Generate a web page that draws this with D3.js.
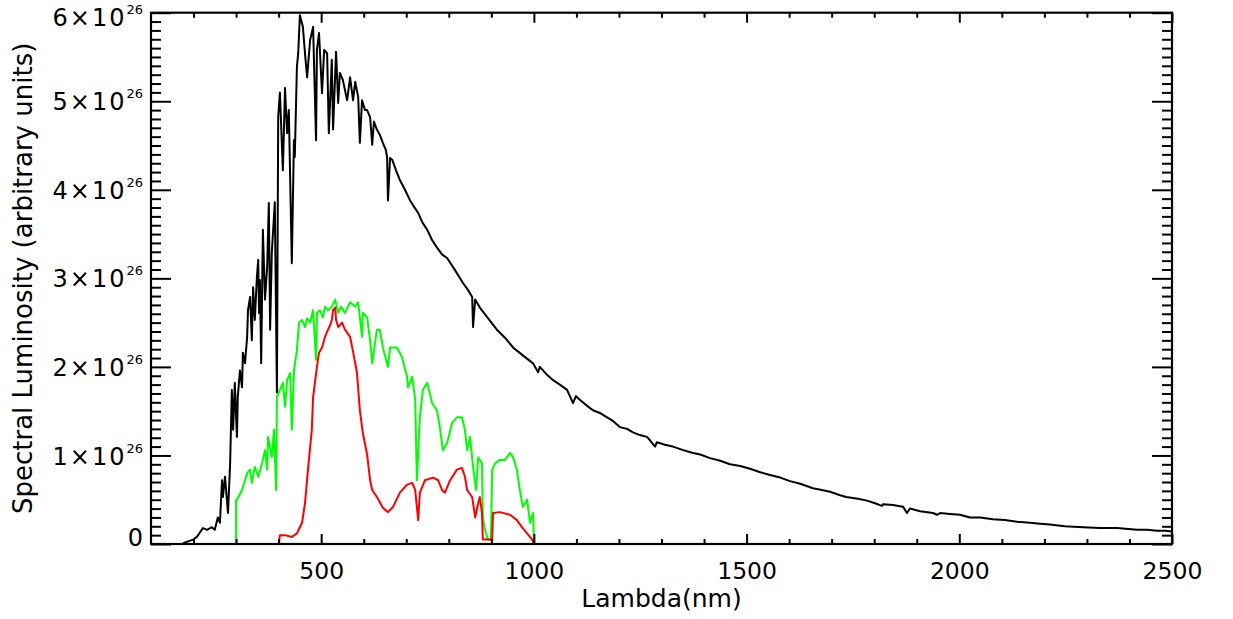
<!DOCTYPE html>
<html>
<head>
<meta charset="utf-8">
<script src="https://cdn.jsdelivr.net/npm/d3@7"></script>
<style>
  body { margin: 0; background: #fff; }
  svg text { font-family: "DejaVu Sans", sans-serif; fill: #000; }
</style>
</head>
<body>
<svg id="chart" width="1233" height="619"></svg>
<script>
// spectral luminosity, in units of 1e26 (arbitrary), vs wavelength in nm
var sunWl = [175,199,208,222,232,243,250,257,262,267,269,274,279,281,286,290,293,297,302,304,
  309,314,316,321,326,328,333,337,340,344,349,352,354,356,359,363,368,373,377,380,
  384,391,396,399,403,410,415,420,424,431,436,438,443,446,450,457,462,467,474,481,
  488,490,495,502,507,514,518,525,528,535,540,544,551,561,568,575,580,587,591,596,
  603,608,615,620,624,631,638,645,652,655,657,662,667,676,685,697,709,718,728,737,
  749,761,772,784,796,815,833,845,855,857,862,873,892,913,932,951,974,998,1010,1014,
  1031,1045,1061,1078,1092,1099,1108,1125,1139,1155,1172,1186,1202,1219,1233,1249,1266,1285,1289,1308,
  1327,1351,1372,1391,1414,1438,1461,1485,1508,1532,1555,1579,1602,1626,1656,1677,1696,1720,1734,1762,
  1783,1802,1818,1821,1844,1868,1877,1884,1908,1938,1948,1955,1978,2002,2025,2049,2079,2107,2136,2166,
  2190,2213,2248,2291,2331,2371,2397,2418,2441,2465,2484,2500];
var sunLum = [0.01,0.05,0.08,0.18,0.16,0.19,0.16,0.30,0.24,0.72,0.53,0.76,0.46,0.35,0.91,1.74,1.29,1.82,1.21,1.66,
  1.96,1.77,2.16,2.04,2.34,2.64,2.79,2.30,2.90,2.53,3.02,3.21,2.61,2.98,2.04,3.55,2.76,3.13,3.85,2.42,
  3.29,3.86,1.71,4.82,5.10,4.22,5.15,4.64,4.90,3.17,4.56,4.37,5.39,5.54,5.97,5.84,5.54,5.27,5.69,5.84,
  4.56,5.58,5.77,5.09,5.58,5.54,4.64,5.47,4.68,5.56,4.98,5.32,5.24,5.01,5.27,5.01,5.22,5.05,4.53,5.01,
  4.90,4.90,4.82,4.51,4.77,4.68,4.62,4.53,4.45,4.37,3.88,4.36,4.34,4.22,4.11,4.00,3.88,3.81,3.74,3.64,
  3.55,3.43,3.35,3.27,3.23,3.09,2.95,2.87,2.79,2.45,2.76,2.67,2.55,2.42,2.33,2.22,2.13,2.04,1.94,2.00,
  1.91,1.85,1.80,1.74,1.59,1.67,1.63,1.56,1.51,1.48,1.43,1.39,1.32,1.30,1.26,1.23,1.21,1.10,1.15,1.12,
  1.10,1.06,1.03,1.01,0.97,0.94,0.90,0.88,0.85,0.81,0.78,0.75,0.71,0.68,0.63,0.61,0.59,0.55,0.53,0.51,
  0.49,0.46,0.43,0.45,0.44,0.42,0.35,0.40,0.37,0.35,0.33,0.35,0.34,0.33,0.30,0.30,0.28,0.27,0.25,0.24,
  0.23,0.22,0.20,0.19,0.18,0.18,0.17,0.16,0.16,0.15,0.15,0.14];

var greenWl = [300,300,302,314,326,333,337,344,352,361,368,373,375,384,389,394,396,403,410,415,
  420,427,431,436,443,448,455,462,467,474,481,488,490,497,504,509,516,525,533,540,
  547,556,568,580,587,596,598,608,615,620,631,638,645,657,662,678,690,702,704,714,
  721,725,732,739,749,761,772,779,786,796,808,819,831,838,843,850,857,864,869,878,
  880,885,892,899,902,909,920,932,944,951,960,967,974,984,991,998,1000,1000];
var greenLum = [0,0.50,0.50,0.61,0.80,0.84,0.69,0.87,0.76,0.91,1.06,0.84,1.21,0.98,1.29,0.61,1.66,1.74,1.82,1.55,
  1.85,1.93,1.29,1.96,2.19,2.50,2.53,2.45,2.55,2.50,2.64,2.08,2.61,2.64,2.56,2.68,2.64,2.68,2.76,2.61,
  2.68,2.61,2.73,2.68,2.73,2.34,2.61,2.56,2.30,2.04,2.42,2.42,2.22,2.00,2.22,2.22,2.11,1.89,1.77,1.89,
  1.63,0.72,1.43,1.74,1.82,1.59,1.51,1.32,1.06,1.14,1.37,1.43,1.43,1.29,1.06,1.21,0.87,0.61,0.98,0.91,
  0.30,0.16,0.05,0.05,0.84,0.91,0.95,0.95,1.03,0.98,0.84,0.61,0.42,0.50,0.24,0.35,0.08,0];

var redWl = [400,403,415,431,443,455,462,469,478,481,490,495,502,509,516,521,525,528,533,535,
  540,549,556,568,575,584,591,598,608,615,620,631,645,657,669,685,702,714,721,728,
  732,744,763,775,784,791,803,819,831,838,843,855,862,869,873,878,880,902,904,920,
  944,960,972,984,996,1000];
var redLum = [0,0.10,0.10,0.08,0.12,0.24,0.46,0.84,1.29,1.66,2.00,2.16,2.22,2.34,2.42,2.47,2.53,2.64,2.67,2.53,
  2.45,2.50,2.42,2.34,2.17,1.94,1.51,1.25,1.01,0.72,0.61,0.53,0.41,0.36,0.42,0.58,0.67,0.69,0.61,0.27,
  0.58,0.72,0.75,0.72,0.61,0.58,0.72,0.84,0.86,0.76,0.61,0.53,0.30,0.46,0.53,0.35,0.05,0.05,0.35,0.36,
  0.33,0.27,0.19,0.12,0.05,0];

var xMajor = [500,1000,1500,2000,2500];
var xMinor = d3.range(200,2500,100).filter(function(v){ return v%500!==0; });
var yMajor = [0,1,2,3,4,5,6];
var yMinor = d3.range(1,60).filter(function(v){ return v%10!==0; }).map(function(v){ return v/10; });

(function(){
    var pLeft = 151, pRight = 1172, pTop = 12.7, pBottom = 544;
    var x = d3.scaleLinear().domain([100,2500]).range([pLeft,pRight]);
    var y = d3.scaleLinear().domain([0,6]).range([pBottom,pTop]);

    var svg = d3.select('#chart');
    svg.append('defs').append('clipPath').attr('id','plotClip').append('rect')
        .attr('x',pLeft).attr('y',pTop).attr('width',pRight-pLeft).attr('height',pBottom-pTop);

    var line = d3.line().x(function(d){ return x(d[0]); }).y(function(d){ return y(d[1]); });
    function drawSpectrum(wl, lum, color){
        var pts = wl.map(function(w,i){ return [w, lum[i]]; });
        svg.append('path').datum(pts)
            .attr('clip-path','url(#plotClip)')
            .attr('fill','none').attr('stroke',color).attr('stroke-width',2)
            .attr('stroke-linejoin','round')
            .attr('d',line);
    }
    drawSpectrum(sunWl, sunLum, '#000000');
    drawSpectrum(greenWl, greenLum, '#00ff00');
    drawSpectrum(redWl, redLum, '#ff0000');

    // axes: ticks point into the plot on all four sides
    function styleAxis(g){
        g.select('.domain').remove();
        g.selectAll('.tick line').attr('stroke','#000').attr('stroke-width',2);
        g.attr('font-family',null).attr('font-size',null);
    }
    svg.append('g').attr('transform','translate(0,'+pBottom+')')
        .call(d3.axisBottom(x).tickValues(xMajor).tickSize(-10).tickPadding(18).tickFormat(d3.format('d')))
        .call(styleAxis)
        .selectAll('.tick text').style('font-size','23.5px');
    svg.append('g').attr('transform','translate(0,'+pBottom+')')
        .call(d3.axisBottom(x).tickValues(xMinor).tickSize(-5).tickFormat('')).call(styleAxis);
    svg.append('g').attr('transform','translate(0,'+pTop+')')
        .call(d3.axisTop(x).tickValues(xMajor).tickSize(-10).tickFormat('')).call(styleAxis);
    svg.append('g').attr('transform','translate(0,'+pTop+')')
        .call(d3.axisTop(x).tickValues(xMinor).tickSize(-5).tickFormat('')).call(styleAxis);
    svg.append('g').attr('transform','translate('+pRight+',0)')
        .call(d3.axisRight(y).tickValues(yMajor).tickSize(-20).tickFormat('')).call(styleAxis);
    svg.append('g').attr('transform','translate('+pRight+',0)')
        .call(d3.axisRight(y).tickValues(yMinor).tickSize(-10).tickFormat('')).call(styleAxis);
    svg.append('g').attr('transform','translate('+pLeft+',0)')
        .call(d3.axisLeft(y).tickValues(yMinor).tickSize(-10).tickFormat('')).call(styleAxis);
    var yAxisG = svg.append('g').attr('transform','translate('+pLeft+',0)')
        .call(d3.axisLeft(y).tickValues(yMajor).tickSize(-20).tickFormat('')).call(styleAxis);
    yAxisG.selectAll('.tick text').remove();
    yAxisG.selectAll('.tick').each(function(d){
        var ty = y(d), ly = Math.max(17, Math.min(537, ty));
        var t = d3.select(this).append('text')
            .attr('x',-8).attr('y',ly-ty).attr('dy','0.36em')
            .attr('text-anchor','end').style('font-size','24px');
        if(d===0){ t.text('0'); return; }
        t.append('tspan').style('letter-spacing','2px').text(d+'\u00d710');
        t.append('tspan').attr('dy',-12).style('font-size','13px').text('26');
    });

    // frame
    svg.append('rect').attr('x',pLeft).attr('y',pTop).attr('width',pRight-pLeft).attr('height',pBottom-pTop)
        .attr('fill','none').attr('stroke','#000').attr('stroke-width',2.2);

    svg.append('text').attr('x',(pLeft+pRight)/2).attr('y',607)
        .attr('text-anchor','middle').style('font-size','25px').text('Lambda(nm)');
    svg.append('text').attr('transform','translate(32,'+((pTop+pBottom)/2)+') rotate(-90)')
        .attr('text-anchor','middle').style('font-size','26px')
        .text('Spectral Luminosity (arbitrary units)');
})();
</script>
</body>
</html>
